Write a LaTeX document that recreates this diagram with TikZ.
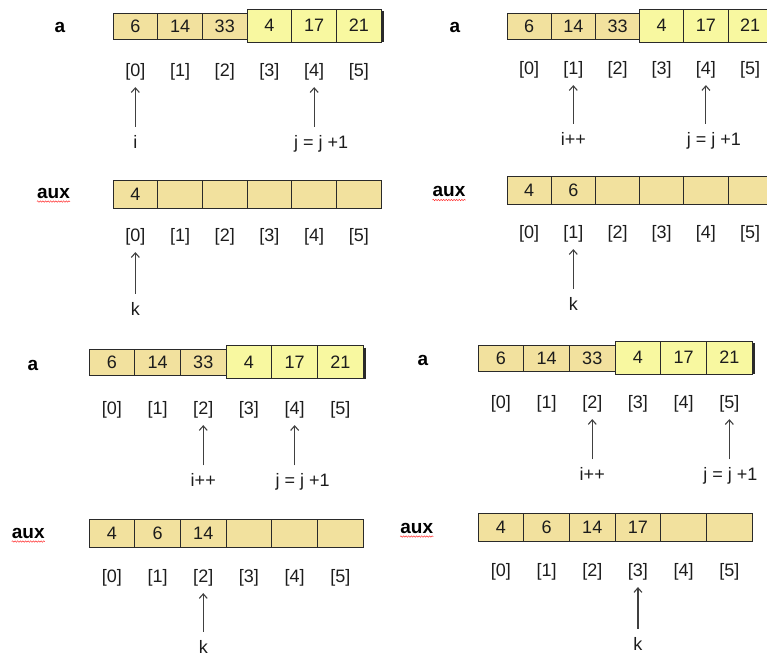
\documentclass[tikz,border=0pt]{standalone}
\usepackage{fontspec}
\setmainfont{Liberation Sans}
\usetikzlibrary{arrows.meta,decorations.pathmorphing}
\definecolor{tancell}{HTML}{F2E19E}
\definecolor{yelcell}{HTML}{F8F8A0}
\definecolor{edge}{HTML}{2A2A2A}
\definecolor{ink}{HTML}{1C1C1C}
\tikzset{
  cell/.style={draw=edge, line width=0.9pt, inner sep=0pt, text=ink,
               font=\fontsize{18}{20}\selectfont},
  tancellst/.style={cell, fill=tancell, minimum height=26pt},
  yelcellst/.style={cell, fill=yelcell, minimum height=33pt},
  auxcellst/.style={cell, fill=tancell, minimum height=28pt},
  idx/.style={inner sep=0pt, text=ink, font=\fontsize{18}{20}\selectfont},
  ptrlabel/.style={inner sep=0pt, text=ink, text height=13pt, text depth=4pt,
                   font=\fontsize{18}{20}\selectfont},
  arrname/.style={inner sep=0pt, text=black, font=\fontsize{19}{21}\selectfont\bfseries},
  ptr/.style={draw=black!75, line width=1.1pt, -{Straight Barb[length=4.5pt,width=8pt]},
              shorten <=8pt, shorten >=6.5pt},
  squiggle/.style={draw=red!80, line width=0.5pt, decorate,
                   decoration={snake, amplitude=0.7pt, segment length=2.6pt}},
  shadowedge/.style={draw=edge, line width=2pt}
}
\begin{document}
\begin{tikzpicture}[x=1pt, y=-1pt]
\useasboundingbox (0,0) rectangle (767,656);
\clip (0,0) rectangle (767,656);
% One merge step per panel:
% prefix / label a (x,y) / left / cell width / array y / index y / i / i text / j / j-label shift / pointer y /
% label aux (x,y) / aux array y / aux index y / k / k label y / filled aux cells
\foreach \p/\alx/\aly/\L/\w/\cy/\iy/\ii/\itxt/\jj/\jo/\py/\xlx/\xly/\xy/\xiy/\kk/\ky/\n in {
  s1/60/27/113/44.7/26/72/0/i/4/7/143.5/53.5/193/194/237/0/310.5/1,
  s2/455/27/507/44.2/26/70/1/i++/4/8/140.5/449/191.5/190.5/234/1/305.5/2,
  s3/33/365/89/45.7/362.5/410/2/i++/4/8/482/28.3/533/533/578/2/648.5/3,
  s4/423/360/478/45.7/358/404/2/i++/5/1/476/416.7/528/527.5/572/3/645.5/4}{
  % array a: first run (tan) and second run (yellow)
  \node[arrname] (\p-alab) at (\alx,\aly) {a};
  \foreach \c/\v in {0/6,1/14,2/33}
    \node[tancellst, minimum width=\w pt] (\p-a\c) at ({\L+(\c+0.5)*\w},\cy) {\v};
  \foreach \c/\v in {3/4,4/17,5/21}
    \node[yelcellst, minimum width=\w pt] (\p-a\c) at ({\L+(\c+0.5)*\w},\cy-0.5) {\v};
  \draw[shadowedge] ([xshift=1.6pt,yshift=-2.5pt]\p-a5.north east) -- ([xshift=1.6pt]\p-a5.south east);
  \foreach \c in {0,...,5}
    \node[idx] (\p-ai\c) at ({\L+(\c+0.5)*\w},\iy) {[\c]};
  % pointers i and j
  \node[ptrlabel] (\p-i) at ({\L+(\ii+0.5)*\w},\py) {\itxt};
  \node[ptrlabel] (\p-j) at ({\L+(\jj+0.5)*\w+\jo},\py) {j = j +1};
  \draw[ptr] (\p-i.north -| \p-ai\ii.south) -- (\p-ai\ii.south);
  \draw[ptr] (\p-j.north -| \p-ai\jj.south) -- (\p-ai\jj.south);
  % array aux
  \node[arrname] (\p-xlab) at (\xlx,\xly) {aux};
  \draw[squiggle] ([yshift=-3.5pt]\p-xlab.base west) -- ([yshift=-3.5pt]\p-xlab.base east);
  \foreach \c/\v in {0/4,1/6,2/14,3/17,4/,5/}
    \node[auxcellst, minimum width=\w pt] (\p-x\c) at ({\L+(\c+0.5)*\w},\xy)
      {\ifnum\c<\n\relax\v\fi};
  \foreach \c in {0,...,5}
    \node[idx] (\p-xi\c) at ({\L+(\c+0.5)*\w},\xiy) {[\c]};
  % pointer k
  \node[ptrlabel] (\p-k) at ({\L+(\kk+0.5)*\w},\ky) {k};
  \draw[ptr] (\p-k.north -| \p-xi\kk.south) -- (\p-xi\kk.south);
}
\end{tikzpicture}
\end{document}
